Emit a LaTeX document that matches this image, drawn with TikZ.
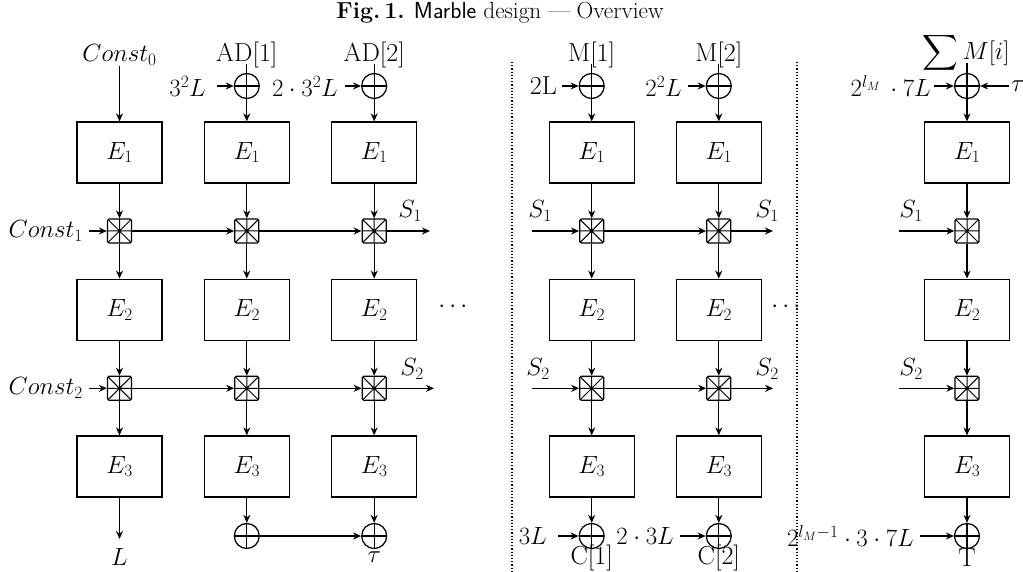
\documentclass[tikz,border=0pt]{standalone}
\usepackage{amsmath}
\usepackage{exscale}
\usetikzlibrary{arrows.meta}
\tikzset{
  lw/.style={line width=1.25pt},
  ebox/.style={draw, lw, minimum width=85pt, minimum height=61pt, inner sep=0pt, font=\fontsize{26}{30}\selectfont},
  mixbox/.style={draw, lw, minimum size=24pt, inner sep=0pt, rounded corners=1.5pt,
    path picture={\draw[line width=1pt] (path picture bounding box.north west) -- (path picture bounding box.south east)
      (path picture bounding box.north east) -- (path picture bounding box.south west)
      (path picture bounding box.north) -- (path picture bounding box.south)
      (path picture bounding box.west) -- (path picture bounding box.east);}},
  xorc/.style={circle, draw, lw, minimum size=25pt, inner sep=0pt,
    path picture={\draw[lw] (path picture bounding box.north) -- (path picture bounding box.south)
      (path picture bounding box.west) -- (path picture bounding box.east);}},
  arr/.style={lw, -{Stealth[length=8pt,width=7pt]}},
  lbl/.style={inner sep=0pt, font=\fontsize{26}{30}\selectfont},
  dots/.style={line width=1.2pt, dotted}
}
\begin{document}
\begin{tikzpicture}[x=1pt,y=-1pt]
\useasboundingbox (0,0) rectangle (1023,572);
% title
\node[inner sep=0pt, font=\fontsize{23.2}{27}\selectfont] (title) at (500,13) {\textbf{Fig.\,1.} \textsf{Marble} design --- Overview};

% column positions
\def\ca{119.5}\def\cb{246.8}\def\cc{374.2}\def\cd{591.7}\def\ce{718.8}\def\cf{967}
% rows
\def\rx{86}\def\ra{152.5}\def\rma{231}\def\rb{309.7}\def\rmb{388.3}\def\rc{466.5}\def\rxb{536}

% E boxes
\foreach \n/\x in {a/\ca,b/\cb,c/\cc,d/\cd,e/\ce,f/\cf}{
  \node[ebox] (E1\n) at (\x,\ra) {$E_1$};
  \node[ebox] (E2\n) at (\x,\rb) {$E_2$};
  \node[ebox] (E3\n) at (\x,\rc) {$E_3$};
  \node[mixbox] (M1\n) at (\x,\rma) {};
  \node[mixbox] (M2\n) at (\x,\rmb) {};
  \draw[arr] (E1\n) -- (M1\n);
  \draw[arr] (M1\n) -- (E2\n);
  \draw[arr] (E2\n) -- (M2\n);
  \draw[arr] (M2\n) -- (E3\n);
}

% top inputs
\node[lbl] (c0) at (\ca,55) {$Const_0$};
\draw[arr] (c0.south) -- (E1a);
\node[lbl] (ad1) at (\cb,55) {AD[1]};
\node[lbl] (ad2) at (\cc,55) {AD[2]};
\node[lbl] (m1) at (\cd,55) {M[1]};
\node[lbl] (m2) at (\ce,55) {M[2]};
\node[lbl] (sm) at (966,53) {$\displaystyle\sum M[i]$};
\node[xorc] (Xb) at (\cb,\rx) {};
\node[xorc] (Xc) at (\cc,\rx) {};
\node[xorc] (Xd) at (\cd,\rx) {};
\node[xorc] (Xe) at (\ce,\rx) {};
\node[xorc] (Xf) at (\cf,\rx) {};
\foreach \l/\n in {ad1/b,ad2/c,m1/d,m2/e}{
  \draw[lw] ([yshift=4pt]\l.south) -- (X\n);
  \draw[arr] (X\n) -- (E1\n);
}
\draw[lw] ([yshift=10pt]sm.south -| Xf) -- (Xf);
\draw[arr] (Xf) -- (E1f);

\node[lbl, anchor=east] (k1) at (206,\rx) {$3^2L$};
\node[lbl, anchor=east] (k2) at (338,\rx) {$2\cdot 3^2L$};
\node[lbl, anchor=east] (k3) at (557,\rx) {2L};
\node[lbl, anchor=east] (k4) at (682,\rx) {$2^2L$};
\node[lbl, anchor=east] (k5) at (931,\rx) {$2^{l_M}\,\cdot 7L$};
\node[lbl, anchor=west] (tau1) at (1011,\rx) {$\tau$};
\draw[arr] ([xshift=11pt]k1.east |- Xb) -- (Xb);
\draw[arr] ([xshift=7pt]k2.east |- Xc) -- (Xc);
\draw[arr] ([xshift=5pt]k3.east |- Xd) -- (Xd);
\draw[arr] ([xshift=6pt]k4.east |- Xe) -- (Xe);
\draw[arr] ([xshift=3pt]k5.east |- Xf) -- (Xf);
\draw[arr] ([xshift=-2pt]tau1.west |- Xf) -- (Xf);

% mixing rows, group 1
\node[lbl, anchor=east] (cs1) at (83,\rma) {$Const_1$};
\node[lbl, anchor=east] (cs2) at (83,\rmb) {$Const_2$};
\draw[arr] ([xshift=6pt]cs1.east |- M1a) -- (M1a);
\draw[arr] ([xshift=6pt]cs2.east |- M2a) -- (M2a);
\draw[arr] (M1a) -- (M1b);
\draw[arr] (M1b) -- (M1c);
\draw[arr] (M2a) -- (M2b);
\draw[arr] (M2b) -- (M2c);
\coordinate (o1) at (430,\rma);
\coordinate (o2) at (434,\rmb);
\draw[arr] (M1c) -- (o1);
\draw[arr] (M2c) -- (o2);
\node[lbl] (s1o) at (410,211) {$S_1$};
\node[lbl] (s2o) at (412,369) {$S_2$};
\node[lbl] (dt1) at (455,307) {$\cdots$};

% group 2
\node[lbl] (s1i) at (540,211) {$S_1$};
\node[lbl] (s2i) at (538,369) {$S_2$};
\coordinate (i1) at (532,\rma);
\coordinate (i2) at (532,\rmb);
\draw[arr] (i1) -- (M1d);
\draw[arr] (i2) -- (M2d);
\draw[arr] (M1d) -- (M1e);
\draw[arr] (M2d) -- (M2e);
\coordinate (o3) at (773,\rma);
\coordinate (o4) at (773,\rmb);
\draw[arr] (M1e) -- (o3);
\draw[arr] (M2e) -- (o4);
\node[lbl] (s1o2) at (767,211) {$S_1$};
\node[lbl] (s2o2) at (767,369) {$S_2$};
\node[lbl] (dt2) at (788,307) {$\cdots$};

% group 3
\node[lbl] (s1i3) at (911,211) {$S_1$};
\node[lbl] (s2i3) at (911,369) {$S_2$};
\coordinate (i3) at (899,\rma);
\coordinate (i4) at (899,\rmb);
\draw[arr] (i3) -- (M1f);
\draw[arr] (i4) -- (M2f);

% bottom
\coordinate (lend) at (\ca,539);
\draw[arr] (E3a) -- (lend);
\node[lbl] (L) at (\ca,557) {$L$};
\node[xorc] (Yb) at (\cb,\rxb) {};
\node[xorc] (Yc) at (\cc,\rxb) {};
\node[xorc] (Yd) at (\cd,\rxb) {};
\node[xorc] (Ye) at (\ce,\rxb) {};
\node[xorc] (Yf) at (\cf,\rxb) {};
\foreach \n in {b,c,d,e,f}{\draw[arr] (E3\n) -- (Y\n);}
\draw[arr] (Yb) -- (Yc);
\node[lbl] (tau2) at (\cc,557) {$\tau$};
\node[lbl] (C1) at (\cd,558) {C[1]};
\node[lbl] (C2) at (\ce,558) {C[2]};
\node[lbl] (T) at (\cf,558) {T};
\node[lbl, anchor=east] (b1) at (547,\rxb) {$3L$};
\node[lbl, anchor=east] (b2) at (674,\rxb) {$2\cdot 3L$};
\node[lbl, anchor=east] (b3) at (914,\rxb) {$2^{l_M-1}\cdot 3\cdot 7L$};
\draw[arr] ([xshift=11pt]b1.east |- Yd) -- (Yd);
\draw[arr] ([xshift=6pt]b2.east |- Ye) -- (Ye);
\draw[arr] ([xshift=6pt]b3.east |- Yf) -- (Yf);

% separators
\coordinate (da) at (512,62);
\coordinate (db) at (512,572);
\coordinate (dc) at (797,62);
\coordinate (dd) at (797,572);
\draw[dots] (da) -- (db);
\draw[dots] (dc) -- (dd);
\end{tikzpicture}
\end{document}
